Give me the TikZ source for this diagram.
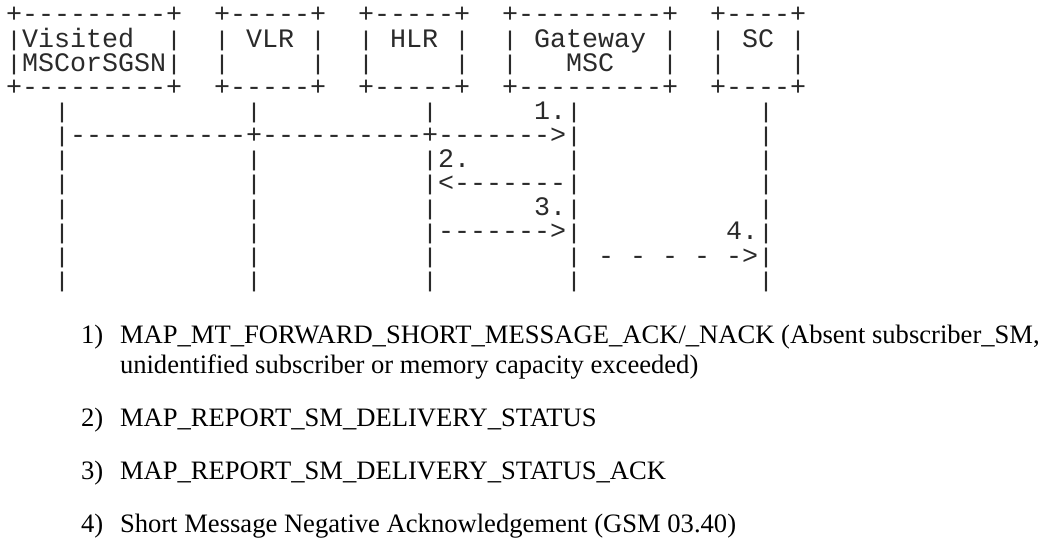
\documentclass[tikz,border=0pt]{standalone}
\usepackage{graphicx}
\usepackage{fontspec}
\setmainfont{Liberation Serif}
\setmonofont{Liberation Mono}
\definecolor{asciigray}{HTML}{2A2A2A}
\tikzset{
  asc/.style={anchor=base west, inner sep=0pt, outer sep=0pt,
    font=\ttfamily\fontsize{26.67pt}{24pt}\selectfont, text=asciigray,
    text height=17pt, text depth=5pt},
  lbl/.style={anchor=base west, inner sep=0pt, outer sep=0pt,
    font=\rmfamily\fontsize{26.6pt}{30pt}\selectfont, text=black},
}
% the bar character, shortened so that stacked bars leave a small gap
\newcommand\vb{\raisebox{0.8pt}{\scalebox{1}[0.8]{|}}}
\newcommand\At[4]{\node[asc] (#1) at ({6+16*(#2)},{-23-24.1*(#3)}) {#4};}
\begin{document}
\begin{tikzpicture}[x=1pt,y=1pt]
\useasboundingbox (0,0) rectangle (1051,-543);
% boxes
\At{visT}{0}{0}{+---------+}
\At{visA}{0}{1}{\vb Visited~~\vb}
\At{visB}{0}{2}{\vb MSCorSGSN\vb}
\At{visF}{0}{3}{+---------+}
\At{vlrT}{13}{0}{+-----+}
\At{vlrA}{13}{1}{\vb~VLR~\vb}
\At{vlrB}{13}{2}{\vb~~~~~\vb}
\At{vlrF}{13}{3}{+-----+}
\At{hlrT}{22}{0}{+-----+}
\At{hlrA}{22}{1}{\vb~HLR~\vb}
\At{hlrB}{22}{2}{\vb~~~~~\vb}
\At{hlrF}{22}{3}{+-----+}
\At{gmscT}{31}{0}{+---------+}
\At{gmscA}{31}{1}{\vb~Gateway~\vb}
\At{gmscB}{31}{2}{\vb~~~MSC~~~\vb}
\At{gmscF}{31}{3}{+---------+}
\At{scT}{44}{0}{+----+}
\At{scA}{44}{1}{\vb~SC~\vb}
\At{scB}{44}{2}{\vb~~~~\vb}
\At{scF}{44}{3}{+----+}
% lifelines
\foreach \r in {4,...,11}{
  \At{visL\r}{3}{\r}{\vb}
  \At{gmscL\r}{35}{\r}{\vb}
  \At{scL\r}{47}{\r}{\vb}
}
\foreach \r in {4,6,7,8,9,10,11}{
  \At{vlrL\r}{15}{\r}{\vb}
  \At{hlrL\r}{26}{\r}{\vb}
}
% messages
\At{m1l}{33}{4}{1.}
\At{m1}{4}{5}{-----------+----------+------->}
\At{m2l}{27}{6}{2.}
\At{m2}{27}{7}{<-------}
\At{m3l}{33}{8}{3.}
\At{m3}{27}{9}{------->}
\At{m4l}{45}{9}{4.}
\At{m4}{37}{10}{-~-~-~-~->}
% legend
\node[lbl] (n1) at (81,-343) {1)};
\node[lbl] (t1a) at (120,-343) {MAP\_MT\_FORWARD\_SHORT\_MESSAGE\_ACK/\_NACK (Absent subscriber\_SM,};
\node[lbl] (t1b) at (120,-373) {unidentified subscriber or memory capacity exceeded)};
\node[lbl] (n2) at (81,-426) {2)};
\node[lbl] (t2) at (120,-426) {MAP\_REPORT\_SM\_DELIVERY\_STATUS};
\node[lbl] (n3) at (81,-479) {3)};
\node[lbl] (t3) at (120,-479) {MAP\_REPORT\_SM\_DELIVERY\_STATUS\_ACK};
\node[lbl] (n4) at (81,-532) {4)};
\node[lbl] (t4) at (120,-532) {Short Message Negative Acknowledgement (GSM 03.40)};
\end{tikzpicture}
\end{document}
